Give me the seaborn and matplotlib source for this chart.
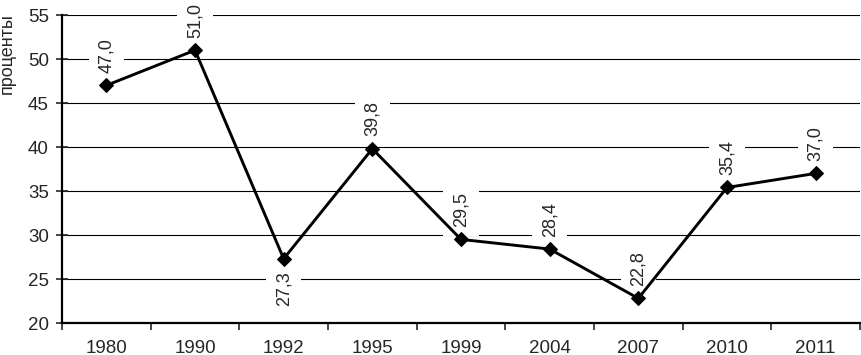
import numpy as np
import pandas as pd

import seaborn as sns
import matplotlib
import matplotlib.pyplot as plt
from matplotlib.ticker import FixedLocator

years = ['1980', '1990', '1992', '1995', '1999', '2004', '2007', '2010', '2011']
values = [47.0, 51.0, 27.3, 39.8, 29.5, 28.4, 22.8, 35.4, 37.0]
labels_below = ['1992']

sns.set_style('white')
plt.rcParams['font.family'] = ['Liberation Sans', 'DejaVu Sans']

data = pd.DataFrame({'year': years, 'value': values})

fig = plt.figure(figsize=(8.61, 3.55), dpi=100)
ax = fig.add_axes([62 / 861, 1 - 323 / 355, 798 / 861, 308 / 355])

sns.lineplot(data=data, x='year', y='value', color='black', linewidth=2.1,
             marker='D', markersize=7.5, markeredgecolor='black', ax=ax, zorder=3)

#data labels, rotated, white box cuts the grid lines
for i, (yr, v) in enumerate(zip(years, values)):
    below = yr in labels_below
    ax.annotate('{:.1f}'.format(v).replace('.', ','), xy=(i, v),
                xytext=(0, -9 if below else 9), textcoords='offset points',
                rotation=90, ha='center', va='top' if below else 'bottom',
                fontsize=13, zorder=2,
                bbox=dict(boxstyle='square,pad=0.5', fc='white', ec='none'))

ax.set_ylim(20, 55)
ax.set_yticks(np.arange(20, 56, 5))
ax.set_xlim(-0.5, len(years) - 0.5)
ax.set_xticks(range(len(years)))
ax.set_xticklabels(years)
ax.xaxis.set_minor_locator(FixedLocator(np.arange(-0.5, len(years), 1)))

for g in np.arange(25, 56, 5):
    ax.axhline(g, color='black', linewidth=0.8, zorder=0)

ax.tick_params(axis='x', which='major', length=0, labelsize=13.5, pad=12)
ax.tick_params(axis='x', which='minor', length=5, width=1.2, direction='out', bottom=True)
ax.tick_params(axis='y', length=9, width=1.2, direction='inout', left=True, labelsize=13.5, pad=5)

for s in ['top', 'right']:
    ax.spines[s].set_visible(False)
for s in ['left', 'bottom']:
    ax.spines[s].set_color('black')
    ax.spines[s].set_linewidth(1.6)

ax.set_xlabel('')
ax.set_ylabel('')
fig.text(7.5 / 861, 0.85, 'проценты', rotation=90, ha='center', va='center', fontsize=13)

plt.savefig('out.png', dpi=100)
